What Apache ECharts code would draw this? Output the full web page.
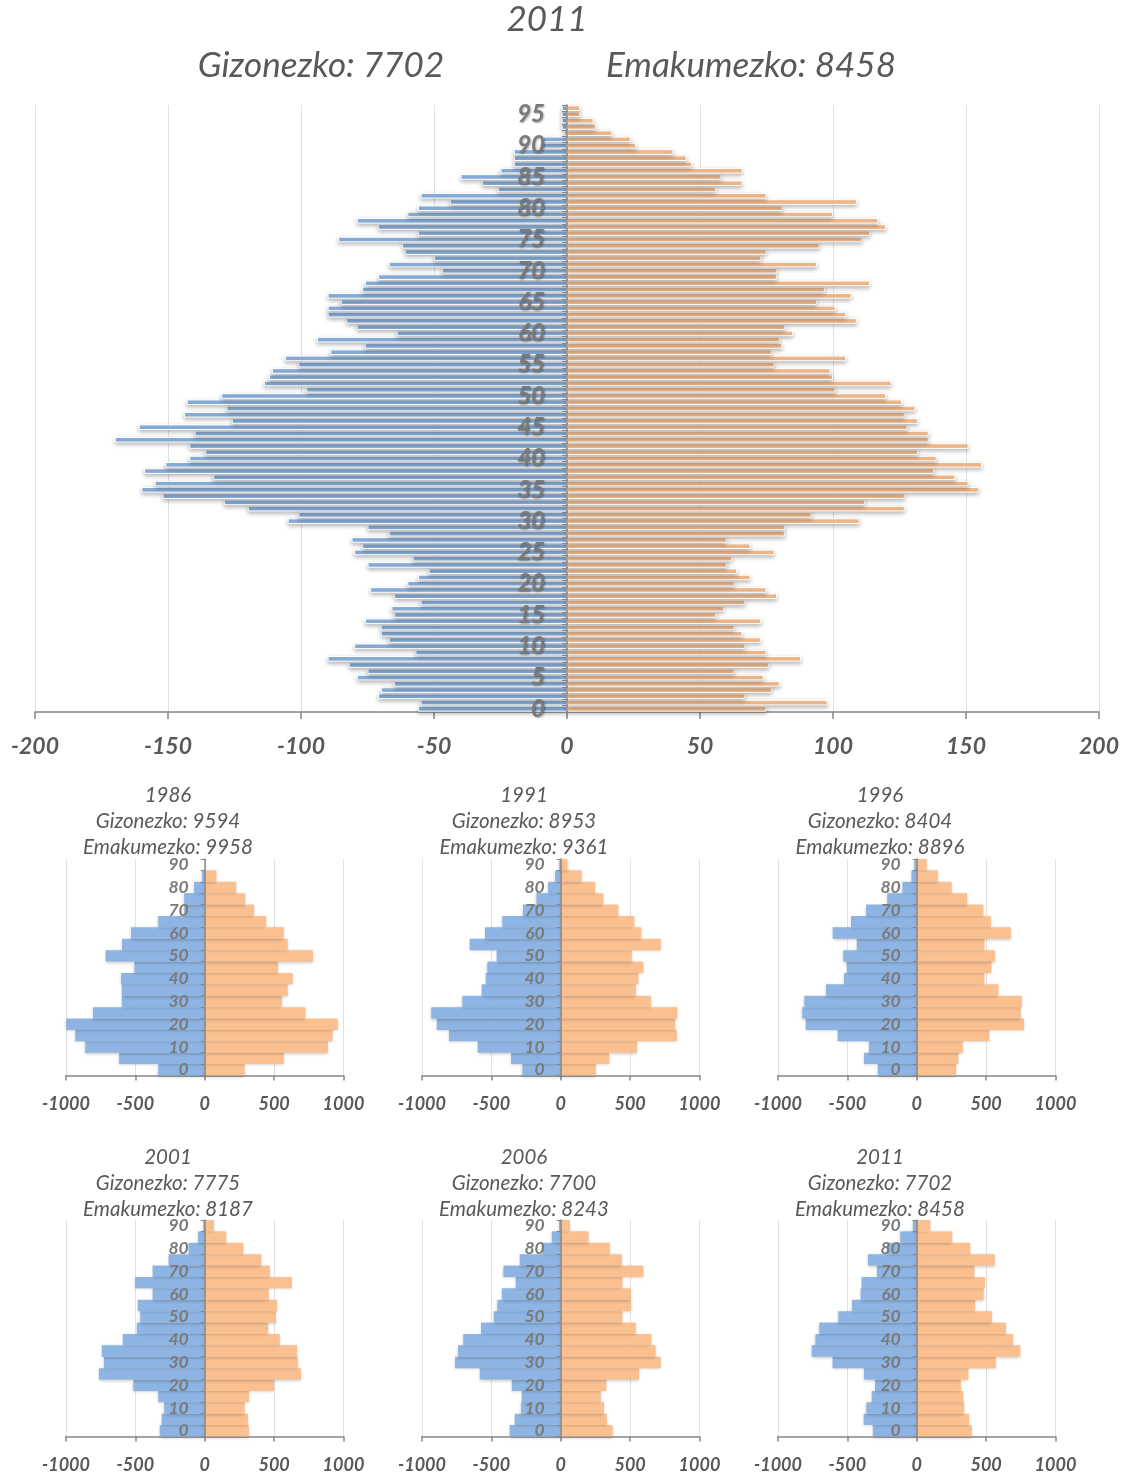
<!DOCTYPE html>
<html>
<head>
<meta charset="utf-8">
<script src="https://cdn.jsdelivr.net/npm/echarts@6/dist/echarts.min.js"></script>
<style>
  html, body { margin: 0; padding: 0; background: #fff; }
  #chart { width: 1125px; height: 1476px; }
</style>
</head>
<body>
<div id="chart"></div>
<script>
/* ---- data ---- */

// single-year ages 0..96 for the big 2011 pyramid
const ages = Array.from({ length: 97 }, (_, i) => String(i));

const male2011 = [
  -56, -55, -71, -70, -65, -79, -75, -82, -90, -57,
  -80, -67, -70, -70, -76, -65, -66, -55, -65, -74,
  -60, -56, -52, -75, -58, -80, -77, -81, -67, -75,
  -105, -101, -120, -129, -152, -160, -155, -133, -159, -151,
  -142, -136, -142, -170, -140, -161, -126, -144, -128, -143,
  -130, -98, -114, -112, -111, -101, -106, -89, -76, -94,
  -64, -79, -83, -90, -90, -85, -90, -77, -76, -71,
  -47, -67, -50, -61, -62, -86, -56, -71, -79, -60,
  -56, -44, -55, -26, -32, -40, -25, -20, -20, -20,
  -10, -9, -1, -2, -2, -2, -2
];
const female2011 = [
  75, 98, 67, 77, 80, 74, 63, 76, 88, 75,
  67, 73, 66, 63, 73, 56, 59, 67, 79, 75,
  63, 69, 64, 60, 62, 78, 69, 60, 82, 82,
  110, 92, 127, 112, 127, 155, 151, 146, 138, 156,
  139, 132, 151, 136, 136, 128, 132, 127, 131, 126,
  120, 101, 122, 100, 99, 78, 105, 77, 81, 80,
  85, 82, 109, 105, 101, 94, 107, 97, 114, 79,
  79, 94, 73, 75, 95, 111, 114, 120, 117, 100,
  81, 109, 75, 56, 66, 58, 66, 47, 45, 40,
  26, 24, 17, 11, 10, 5, 5
];

// five-year groups for the small pyramids
const groups = ['0', '5', '10', '15', '20', '25', '30', '35', '40', '45',
                '50', '55', '60', '65', '70', '75', '80', '85', '90'];

const m1986 = [-335, -617, -861, -933, -998, -806, -598, -598, -603, -507, -715, -596, -531, -335, -148, -148, -77, -19, 0];
const f1986 = [287, 569, 888, 921, 959, 725, 555, 598, 634, 529, 780, 598, 569, 443, 356, 292, 227, 84, 0];
const m1991 = [-276, -358, -599, -805, -894, -933, -709, -570, -541, -529, -462, -656, -546, -421, -272, -175, -91, -41, -10];
const f1991 = [252, 349, 550, 837, 825, 841, 651, 541, 560, 596, 512, 721, 579, 531, 416, 308, 248, 151, 48];
const m1996 = [-281, -380, -344, -570, -800, -825, -810, -654, -524, -505, -529, -433, -606, -474, -365, -212, -103, -38, -17];
const f1996 = [284, 300, 332, 524, 774, 750, 757, 589, 488, 538, 565, 488, 678, 534, 481, 363, 252, 151, 72];
const m2001 = [-325, -311, -292, -335, -514, -763, -727, -742, -591, -490, -464, -483, -376, -502, -376, -261, -117, -48, -10];
const f2001 = [318, 311, 287, 318, 498, 694, 670, 665, 541, 457, 514, 522, 462, 629, 469, 409, 278, 155, 67];
const m2006 = [-368, -332, -286, -281, -353, -584, -762, -740, -702, -575, -483, -457, -425, -325, -413, -296, -132, -65, -12];
const f2006 = [373, 332, 312, 288, 329, 565, 721, 683, 654, 541, 445, 507, 505, 445, 596, 440, 353, 200, 67];
const m2011 = [-317, -383, -363, -325, -301, -380, -607, -758, -730, -702, -565, -466, -405, -398, -287, -352, -213, -118, -28];
const f2011 = [397, 376, 342, 336, 318, 372, 569, 747, 695, 644, 542, 421, 482, 491, 416, 561, 386, 256, 98];

const mainTicks = [-200, 200, 50];   // min, max, step
const smallTicks = [-1000, 1000, 500];

const panels = [
  { year: '1986', men: 9594, women: 9958, male: m1986, female: f1986 },
  { year: '1991', men: 8953, women: 9361, male: m1991, female: f1991 },
  { year: '1996', men: 8404, women: 8896, male: m1996, female: f1996 },
  { year: '2001', men: 7775, women: 8187, male: m2001, female: f2001 },
  { year: '2006', men: 7700, women: 8243, male: m2006, female: f2006 },
  { year: '2011', men: 7702, women: 8458, male: m2011, female: f2011 }
];

/* ---- style ---- */
const FONT = "Lato, 'Liberation Sans', sans-serif";
const BLUE = '#8DB4E2';
const ORANGE = '#FAC090';
const AXIS = '#868686';
const GRIDLINE = '#E1E1E1';
const TEXT = '#595959';
const CAT = '#7A7A7A';
const plain = v => String(v);   // no thousands separator

const grids = [], xAxes = [], yAxes = [], series = [], titles = [];

/* big pyramid: grid spans -200..200, so zero sits half a width in.
   v6 keeps category labels at the grid edge even with onZero, so the
   y axis is pushed in with a negative offset instead. */
const MAIN_W = 1064;
grids.push({ left: 35, top: 105, width: MAIN_W, height: 607, outerBoundsMode: 'none' });
xAxes.push({
  type: 'value', gridIndex: 0,
  min: mainTicks[0], max: mainTicks[1], interval: mainTicks[2],
  axisLine: { show: true, lineStyle: { color: AXIS, width: 1.5 } },
  axisTick: { show: true, length: 7, lineStyle: { color: AXIS, width: 1.5 } },
  splitLine: { show: true, lineStyle: { color: GRIDLINE } },
  axisLabel: { margin: 23, formatter: plain, fontFamily: FONT, fontSize: 23, fontWeight: 'bold', fontStyle: 'italic', color: TEXT }
});
yAxes.push({
  type: 'category', gridIndex: 0, data: ages, z: 10,
  offset: -MAIN_W / 2,
  axisLine: { show: true, onZero: false, lineStyle: { color: AXIS, width: 1.5 } },
  axisTick: { show: true, interval: 0, length: 5, lineStyle: { color: AXIS } },
  splitLine: { show: false },
  axisLabel: {
    interval: 4, margin: 22, fontFamily: FONT, fontSize: 24, fontWeight: 'bold', fontStyle: 'italic', color: CAT,
    textShadowColor: 'rgba(0,0,0,0.35)', textShadowBlur: 2, textShadowOffsetX: 1, textShadowOffsetY: 1
  }
});
const mainBar = (data, color) => ({
  type: 'bar', xAxisIndex: 0, yAxisIndex: 0, data,
  barGap: '-100%', barCategoryGap: '10%',
  itemStyle: {
    color, borderColor: '#fff', borderWidth: 1,
    shadowColor: 'rgba(0,0,0,0.28)', shadowBlur: 4, shadowOffsetY: 2
  },
  silent: true
});
series.push(mainBar(male2011, BLUE), mainBar(female2011, ORANGE));

titles.push(
  { text: '2011', left: 547, top: 0 },
  { text: 'Gizonezko: 7702', left: 321, top: 46 },
  { text: 'Emakumezko: 8458', left: 751, top: 46 }
);
titles.forEach(t => {
  t.textAlign = 'center'; t.textVerticalAlign = 'top'; t.padding = 0;
  t.textStyle = { fontFamily: FONT, fontSize: 35, fontStyle: 'italic', fontWeight: 'normal', color: TEXT, lineHeight: 40 };
});

/* small pyramids, 3 x 2 */
const SMALL_W = 277.5;
const colLeft = [66, 422, 778];
const colCenter = [168, 524, 880];
const rowTop = [859, 1220];
const titleTop = [782, 1144];

panels.forEach((p, i) => {
  const c = i % 3, r = Math.floor(i / 3), gi = i + 1;
  grids.push({ left: colLeft[c], top: rowTop[r], width: SMALL_W, height: 216.5, outerBoundsMode: 'none' });
  xAxes.push({
    type: 'value', gridIndex: gi,
    min: smallTicks[0], max: smallTicks[1], interval: smallTicks[2],
    axisLine: { show: true, lineStyle: { color: AXIS, width: 1.5 } },
    axisTick: { show: true, length: 5, lineStyle: { color: AXIS, width: 1.5 } },
    splitLine: { show: true, lineStyle: { color: GRIDLINE } },
    axisLabel: { margin: 20, formatter: plain, fontFamily: FONT, fontSize: 18, fontWeight: 'bold', fontStyle: 'italic', color: TEXT }
  });
  yAxes.push({
    type: 'category', gridIndex: gi, data: groups, z: 10,
    offset: -SMALL_W / 2,
    axisLine: { show: true, onZero: false, lineStyle: { color: AXIS, width: 1.5 } },
    axisTick: { show: true, interval: 0, length: 4, lineStyle: { color: AXIS } },
    splitLine: { show: false },
    axisLabel: { interval: 1, margin: 16, fontFamily: FONT, fontSize: 17.5, fontWeight: 'bold', fontStyle: 'italic', color: CAT }
  });
  [[p.male, BLUE], [p.female, ORANGE]].forEach(([d, col]) => {
    series.push({
      type: 'bar', xAxisIndex: gi, yAxisIndex: gi, data: d,
      barGap: '-100%', barCategoryGap: 0, silent: true,
      itemStyle: { color: col, shadowColor: 'rgba(0,0,0,0.22)', shadowBlur: 3, shadowOffsetY: 1 }
    });
  });
  titles.push({
    text: p.year + '\nGizonezko: ' + p.men + '\nEmakumezko: ' + p.women,
    left: colCenter[c], top: titleTop[r], textAlign: 'center', textVerticalAlign: 'top', padding: 0,
    textStyle: { fontFamily: FONT, fontSize: 20.5, fontStyle: 'italic', fontWeight: 'normal', color: TEXT, lineHeight: 26, align: 'center' }
  });
});

const chart = echarts.init(document.getElementById('chart'), null, { renderer: 'canvas' });
chart.setOption({
  animation: false,
  backgroundColor: '#fff',
  title: titles,
  grid: grids,
  xAxis: xAxes,
  yAxis: yAxes,
  series
});
</script>
</body>
</html>
